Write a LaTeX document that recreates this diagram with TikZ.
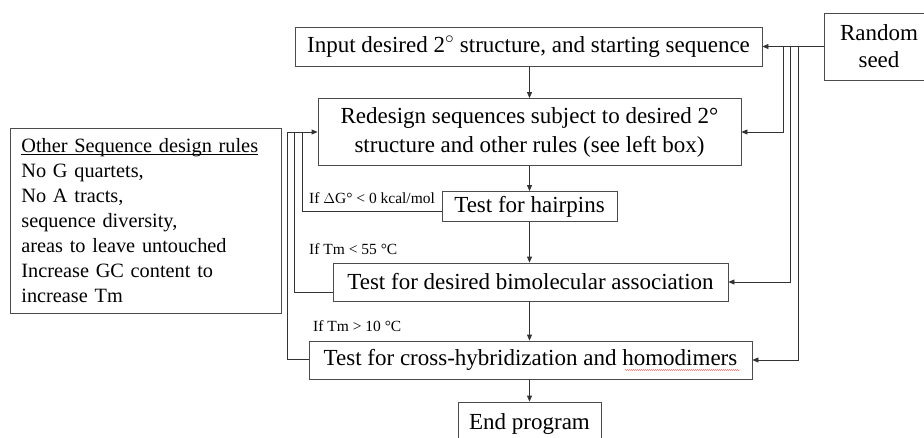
\documentclass[tikz,border=0pt]{standalone}
\usepackage{fontspec}
\setmainfont{Liberation Serif}
\usetikzlibrary{arrows.meta,calc,decorations.pathmorphing}
% underline drawn close to the baseline
\newcommand\closeul[1]{\setbox0\hbox{#1}\rlap{\rule[-2.2pt]{\wd0}{0.7pt}}#1}
\begin{document}
\begin{tikzpicture}[x=1pt,y=-1pt,
  box/.style={draw=black!70, line width=0.8pt, inner sep=0pt, align=center,
              font=\fontsize{23}{28}\selectfont},
  wire/.style={draw=black!80, line width=0.8pt},
  arr/.style={wire, -{Triangle[length=6pt,width=5pt]}},
  lbl/.style={inner sep=0pt, anchor=west, font=\fontsize{15.5}{18}\selectfont}]
\useasboundingbox (0,0) rectangle (924,437);
\clip (0,0) rectangle (924,437);

% main flow boxes
\node[box, minimum width=467, minimum height=39] (in) at (528.5,46.5)
  {Input desired 2$^\circ$ structure, and starting sequence};
\node[box, minimum width=110, minimum height=67, font=\fontsize{23}{27}\selectfont] (seed) at (879,46.5)
  {Random\\seed};
\node[box, minimum width=423, minimum height=67, font=\fontsize{23}{29}\selectfont] (rd) at (529.5,132)
  {Redesign sequences subject to desired 2°\\structure and other rules (see left box)};
\node[box, minimum width=175, minimum height=30] (hp) at (529.5,206.5) {Test for hairpins};
\node[box, minimum width=395, minimum height=38] (bm) at (530.5,282) {Test for desired bimolecular association};
\node[box, minimum width=443, minimum height=38] (cr) at (530.5,360) {Test for cross-hybridization and homodimers};
\node[box, minimum width=143, minimum height=44] (end) at (529.5,424) {End program};

% side box with the extra rules
\node[draw=black!70, line width=0.8pt, anchor=north west, text width=249pt,
      inner xsep=11pt, inner ysep=4pt, minimum height=185, align=left,
      font=\fontsize{20.3}{25}\selectfont] (rules) at (10,128)
  {\closeul{Other Sequence design rules}\\
   No G quartets,\\
   No A tracts,\\
   sequence diversity,\\
   areas to leave untouched\\
   Increase GC content to\\
   increase Tm};

% condition labels
\node[lbl] (c1) at (309,198) {If $\Delta$G° < 0 kcal/mol};
\node[lbl] (c2) at (309,249) {If Tm < 55 °C};
\node[lbl] (c3) at (313,326) {If Tm > 10 °C};

% downward flow
\draw[arr] (in.south -| 529.5,0) -- (529.5,0 |- rd.north);
\draw[arr] (rd.south -| 529.5,0) -- (529.5,0 |- hp.north);
\draw[arr] (hp.south -| 529.5,0) -- (529.5,0 |- bm.north);
\draw[arr] (bm.south -| 529.5,0) -- (529.5,0 |- cr.north);
\draw[arr] (cr.south -| 529.5,0) -- (529.5,0 |- end.north);

% random seed feeds
\coordinate (sA) at (783,46.5);
\coordinate (sB) at (790,46.5);
\coordinate (sC) at (798,46.5);
\draw[arr] (seed.west) -- (in.east);
\draw[arr] (sA) |- (rd.east);
\draw[arr] (sB) |- (bm.east);
\draw[arr] (sC) |- (cr.east);

% feedback loops back to the redesign step
\coordinate (fA) at (302,132);
\coordinate (fB) at (294,132);
\coordinate (fC) at (287,132);
\draw[wire] ($(hp.west)+(0,5)$) -| (fA);
\draw[wire] ($(bm.west)+(0,10)$) -| (fB);
\draw[arr] ($(cr.west)+(0,-1)$) -| (fC) -- (rd.west);

% spell-check squiggle under "homodimers"
\draw[red!70, line width=0.4pt, decorate,
      decoration={snake, amplitude=0.5pt, segment length=2pt}] (625,370) -- (740,370);
\end{tikzpicture}
\end{document}
